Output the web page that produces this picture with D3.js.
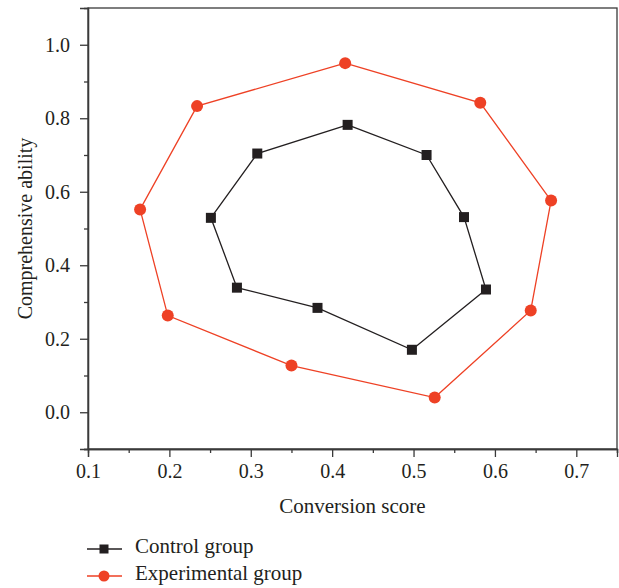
<!DOCTYPE html>
<html lang="en">
<head>
<meta charset="UTF-8">
<script src="https://d3js.org/d3.v7.min.js"></script>
<style>
  body { margin: 0; padding: 0; background: #fff; }
  svg text { font-family: "Liberation Serif", "DejaVu Serif", serif; fill: #231f20; }
</style>
</head>
<body>
<div id="chart"></div>
<script>
// data (x = conversion score, y = comprehensive ability)
const controlX = [0.419, 0.516, 0.562, 0.589, 0.498, 0.382, 0.283, 0.251, 0.308];
const controlY = [0.782, 0.700, 0.531, 0.334, 0.170, 0.284, 0.339, 0.529, 0.704];
const expX = [0.416, 0.582, 0.669, 0.644, 0.526, 0.350, 0.198, 0.164, 0.234];
const expY = [0.950, 0.842, 0.576, 0.277, 0.040, 0.127, 0.263, 0.552, 0.833];
const xTicks = [0.1, 0.2, 0.3, 0.4, 0.5, 0.6, 0.7];
const yTicks = [0.0, 0.2, 0.4, 0.6, 0.8, 1.0];
const seriesNames = ["Control group", "Experimental group"];

const W = 619, H = 588;
const m = { left: 88, right: 2, top: 8, bottom: 139 };

const svg = d3.select("#chart").append("svg").attr("width", W).attr("height", H);

const x = d3.scaleLinear().domain([0.1, 0.75]).range([m.left, W - m.right]);
const y = d3.scaleLinear().domain([-0.1, 1.1]).range([H - m.bottom, m.top]);

const axisCol = "#3a3a3a";
const black = "#231f20", red = "#ee4125";

// frame
svg.append("rect")
  .attr("x", x(0.1)).attr("y", y(1.1))
  .attr("width", x(0.75) - x(0.1)).attr("height", y(-0.1) - y(1.1))
  .attr("fill", "none").attr("stroke", axisCol).attr("stroke-width", 1.3);

// minor ticks
const gx = svg.append("g").attr("transform", "translate(0," + y(-0.1) + ")");
gx.call(d3.axisBottom(x).tickValues(d3.range(0.15, 0.76, 0.1)).tickSize(4).tickFormat(""));
const gy = svg.append("g").attr("transform", "translate(" + x(0.1) + ",0)");
gy.call(d3.axisLeft(y).tickValues([-0.1, 0.1, 0.3, 0.5, 0.7, 0.9]).tickSize(4).tickFormat(""));

// major ticks
const gx2 = svg.append("g").attr("transform", "translate(0," + y(-0.1) + ")");
gx2.call(d3.axisBottom(x).tickValues(xTicks).tickSize(8).tickPadding(7).tickFormat(d3.format(".1f")));
const gy2 = svg.append("g").attr("transform", "translate(" + x(0.1) + ",0)");
gy2.call(d3.axisLeft(y).tickValues(yTicks).tickSize(8).tickPadding(10).tickFormat(d3.format(".1f")));

svg.selectAll(".domain").attr("stroke", axisCol).attr("stroke-width", 1.3);
svg.selectAll(".tick line").attr("stroke", axisCol).attr("stroke-width", 1.3);
svg.selectAll(".tick text").style("font-size", "20px").attr("fill", black);

// axis titles
svg.append("text").attr("x", (x(0.1) + x(0.75)) / 2).attr("y", 513)
  .attr("text-anchor", "middle").style("font-size", "21px").text("Conversion score");
svg.append("text").attr("transform", "translate(32," + y(0.5) + ") rotate(-90)")
  .attr("text-anchor", "middle").style("font-size", "20px").text("Comprehensive ability");

const line = d3.line().x(d => x(d[0])).y(d => y(d[1]));
const ctrl = controlX.map((v, i) => [v, controlY[i]]);
const expr = expX.map((v, i) => [v, expY[i]]);

svg.append("path").datum(ctrl.concat([ctrl[0]])).attr("d", line)
  .attr("fill", "none").attr("stroke", black).attr("stroke-width", 1.3);
svg.append("path").datum(expr.concat([expr[0]])).attr("d", line)
  .attr("fill", "none").attr("stroke", red).attr("stroke-width", 1.3);

svg.selectAll(".sq").data(ctrl).enter().append("rect")
  .attr("x", d => x(d[0]) - 5).attr("y", d => y(d[1]) - 5)
  .attr("width", 10).attr("height", 10).attr("fill", black);
svg.selectAll(".ci").data(expr).enter().append("circle")
  .attr("cx", d => x(d[0])).attr("cy", d => y(d[1])).attr("r", 6).attr("fill", red);

// legend
const leg = svg.append("g");
seriesNames.forEach((name, i) => {
  const ly = 549 + i * 27;
  const col = i === 0 ? black : red;
  leg.append("line").attr("x1", 87).attr("x2", 122).attr("y1", ly).attr("y2", ly)
    .attr("stroke", col).attr("stroke-width", 1.3);
  if (i === 0) {
    leg.append("rect").attr("x", 99.5).attr("y", ly - 4.5).attr("width", 9).attr("height", 9).attr("fill", col);
  } else {
    leg.append("circle").attr("cx", 104).attr("cy", ly).attr("r", 5.5).attr("fill", col);
  }
  leg.append("text").attr("x", 135).attr("y", ly + 4).style("font-size", "21px").text(name);
});
</script>
</body>
</html>
